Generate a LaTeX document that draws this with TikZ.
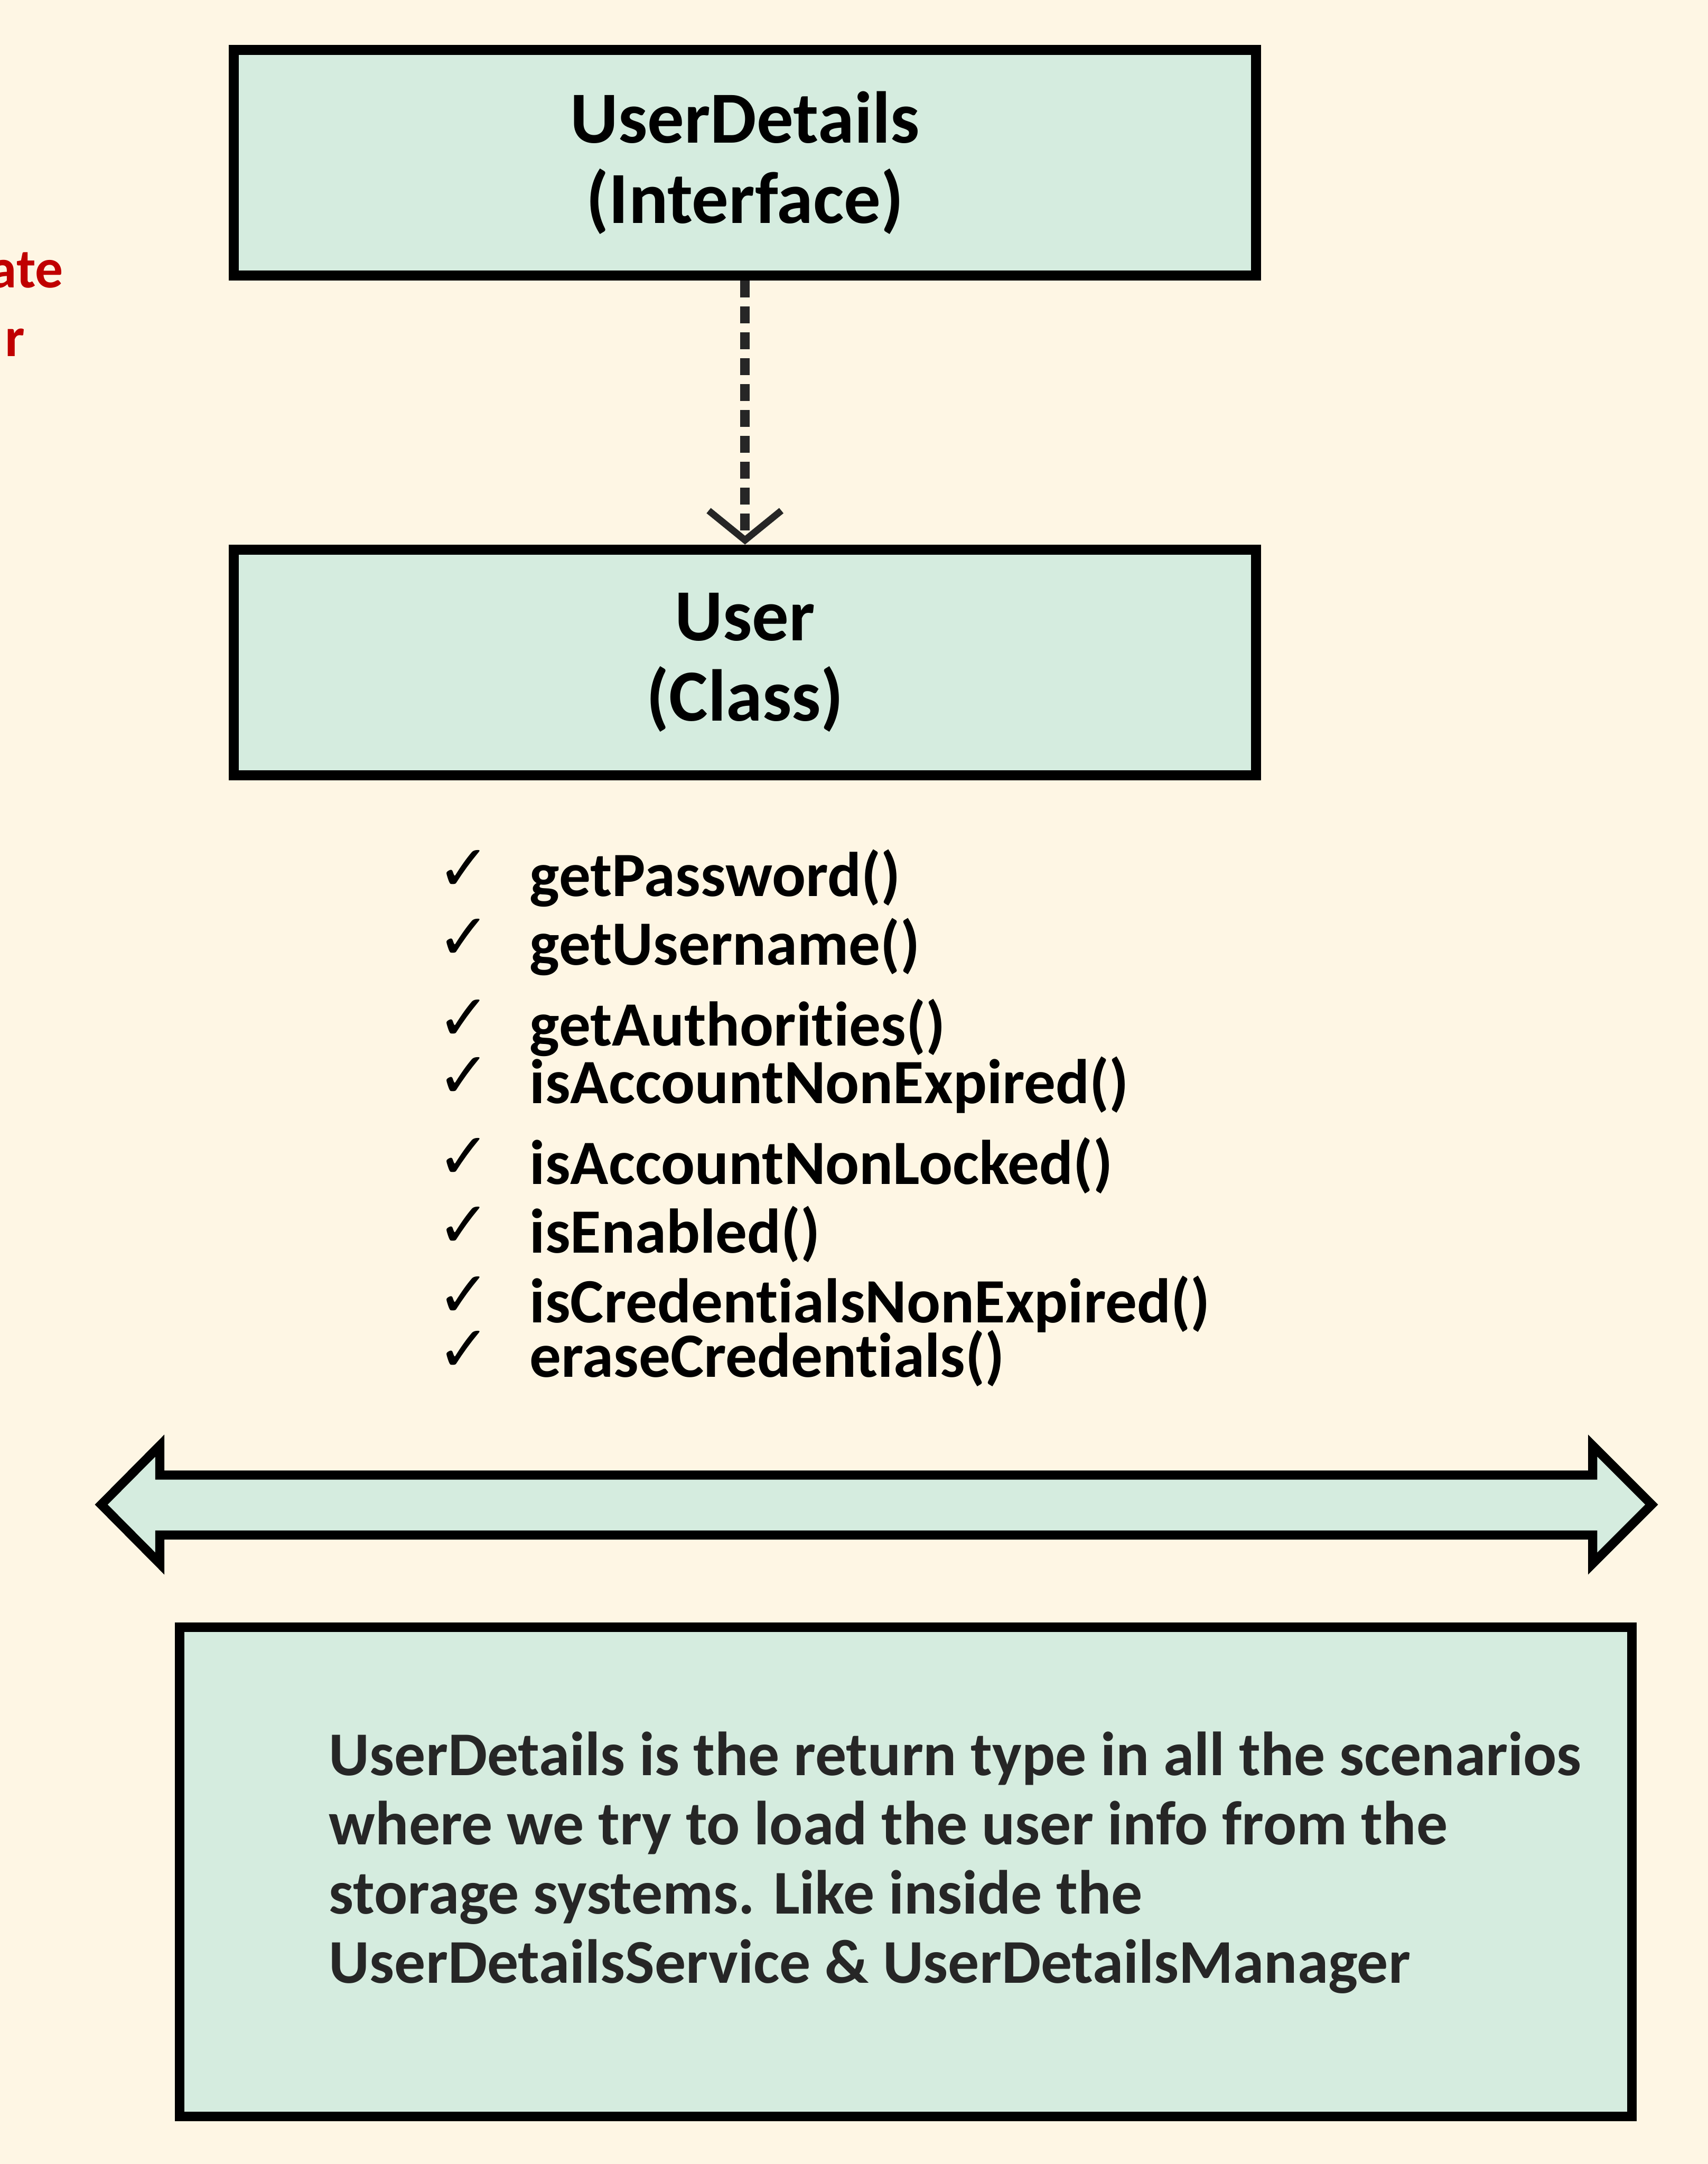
\documentclass[tikz,border=0pt]{standalone}
\usepackage{fontspec}
\setmainfont{Carlito}[Ligatures=NoCommon]
\newfontfamily\symfont{DejaVu Sans}
\usetikzlibrary{arrows.meta}
\definecolor{bgcream}{HTML}{FEF6E4}
\definecolor{boxmint}{HTML}{D5ECDF}
\definecolor{notered}{HTML}{C00000}
\definecolor{inkgray}{HTML}{262626}

\tikzset{
  classbox/.style={draw=black, fill=boxmint, line width=0.22cm, minimum width=22.51cm, minimum height=4.97cm, align=center, font=\fontsize{46}{50.5}\selectfont\bfseries},
  method/.style={anchor=base west, inner sep=0pt, font=\fontsize{39.5}{40}\selectfont\bfseries},
  tick/.style={inner sep=0pt, font=\fontsize{40}{40}\symfont},
  redword/.style={anchor=base east, inner sep=0pt, text=notered, font=\fontsize{35}{35}\selectfont\bfseries},
}

\begin{document}
\begin{tikzpicture}
  \fill[bgcream] (0,0) rectangle (37.61,-47.65);
  \useasboundingbox (0,0) rectangle (37.61,-47.65);

  % cut-off words at the left edge
  \node[redword] (RW1) at (1.40, -6.33) {ate};
  \node[redword] (RW2) at (0.55, -7.85) {r};

  % interface and class
  \node[classbox] (IF) at (16.405, -3.585) {UserDetails\\(Interface)};
  \node[classbox] (CL) at (16.405, -14.585) {User\\(Class)};
  \draw[line width=0.21cm, inkgray, dash pattern=on 0.37cm off 0.2cm,
        -{Straight Barb[length=0.65cm, width=1.6cm, line width=0.15cm]}] (IF) -- (CL);

  % methods
  \node[tick] (C1) at (10.22, -19.17) {✓};
  \node[tick] (C2) at (10.22, -20.68) {✓};
  \node[tick] (C3) at (10.22, -22.46) {✓};
  \node[tick] (C4) at (10.22, -23.73) {✓};
  \node[tick] (C5) at (10.22, -25.50) {✓};
  \node[tick] (C6) at (10.22, -27.02) {✓};
  \node[tick] (C7) at (10.22, -28.55) {✓};
  \node[tick] (C8) at (10.22, -29.75) {✓};
  \node[method] (M1) at (11.66, -19.74) {getPassword()};
  \node[method] (M2) at (11.66, -21.25) {getUsername()};
  \node[method] (M3) at (11.66, -23.03) {getAuthorities()};
  \node[method] (M4) at (11.66, -24.30) {isAccountNonExpired()};
  \node[method] (M5) at (11.66, -26.07) {isAccountNonLocked()};
  \node[method] (M6) at (11.66, -27.59) {isEnabled()};
  \node[method] (M7) at (11.66, -29.12) {isCredentialsNonExpired()};
  \node[method] (M8) at (11.66, -30.32) {eraseCredentials()};

  % wide double arrow
  \draw[line width=0.2cm, fill=boxmint, line join=miter]
    (2.23, -33.13) -- (3.52, -31.83) -- (3.52, -32.48) -- (35.07, -32.48)
    -- (35.07, -31.83) -- (36.37, -33.13) -- (35.07, -34.43) -- (35.07, -33.80)
    -- (3.52, -33.80) -- (3.52, -34.43) -- cycle;

  % note
  \node[draw=black, fill=boxmint, line width=0.21cm, minimum width=31.97cm, minimum height=10.77cm] (NB) at (19.945, -41.215) {};
  \node[anchor=base west, inner sep=0pt, align=left, text=inkgray,
        font=\fontsize{39}{43.3}\selectfont\bfseries] (NT) at (7.24, -43.66)
    {UserDetails is the return type in all the scenarios\\
     where we try to load the user info from the\\
     storage systems. Like inside the\\
     UserDetailsService \& UserDetailsManager};
\end{tikzpicture}
\end{document}
